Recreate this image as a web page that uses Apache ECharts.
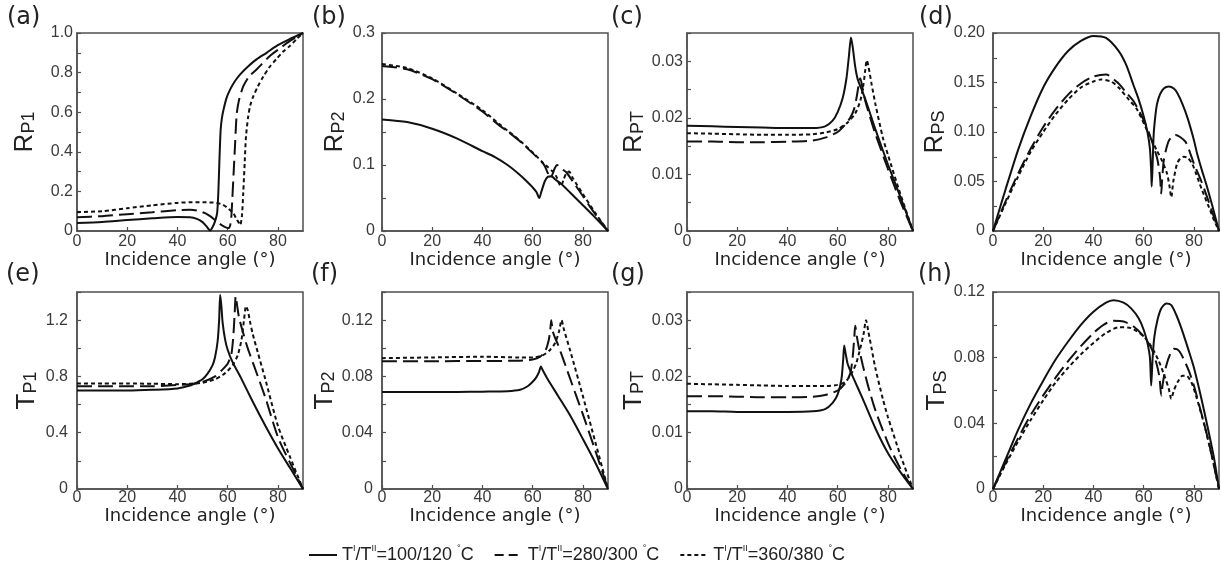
<!DOCTYPE html>
<html><head><meta charset="utf-8">
<script src="https://cdn.jsdelivr.net/npm/echarts@6/dist/echarts.min.js"></script>
<style>html,body{margin:0;padding:0;background:#fff}#c{width:1221px;height:571px}</style>
</head><body><div id="c"></div>
<script>
// ---------- data (angle in degrees, value) ----------
const tempPairs = ['100/120', '280/300', '360/380'];
const panelLetters = ['(a)', '(b)', '(c)', '(d)', '(e)', '(f)', '(g)', '(h)'];
const yMain = ['R', 'R', 'R', 'R', 'T', 'T', 'T', 'T'];
const ySub = ['P1', 'P2', 'PT', 'PS', 'P1', 'P2', 'PT', 'PS'];
const xTitle = 'Incidence angle (°)';
const xStep = 20;
const yMax = [1.0, 0.3, 0.035, 0.2, 1.4, 0.14, 0.035, 0.12];
const yStep = [0.2, 0.1, 0.01, 0.05, 0.4, 0.04, 0.01, 0.04];
const yDecimals = [1, 1, 2, 2, 1, 2, 2, 2];

const RP1_100 = [[0,0.04],[10,0.045],[20,0.055],[30,0.064],[40,0.071],[45,0.07],[48,0.06],[50,0.045],[51.5,0.025],[53,0.003],[54,0.02],[55,0.05],[55.8,0.09],[56.3,0.2],[56.7,0.35],[57.2,0.51],[57.7,0.57],[58.3,0.61],[59.5,0.67],[61,0.715],[62.8,0.755],[64.9,0.79],[68,0.83],[71.6,0.868],[75.5,0.9],[79.5,0.935],[84.5,0.968],[90,1.0]];
const RP1_280 = [[0,0.07],[10,0.075],[20,0.085],[30,0.095],[40,0.105],[45,0.107],[48,0.103],[51,0.09],[53,0.075],[55,0.055],[57,0.035],[59,0.02],[60.5,0.015],[61.3,0.05],[61.8,0.15],[62.4,0.3],[63,0.45],[63.6,0.59],[64.5,0.66],[66.2,0.73],[68.5,0.78],[71.6,0.817],[76.9,0.885],[80,0.915],[84.8,0.96],[90,1.0]];
const RP1_360 = [[0,0.095],[10,0.1],[20,0.115],[30,0.13],[40,0.142],[45,0.145],[50,0.145],[55.6,0.142],[58,0.133],[59.6,0.12],[61,0.105],[62.3,0.09],[63.5,0.06],[64.3,0.045],[65,0.03],[65.7,0.08],[66.2,0.19],[66.8,0.35],[67.3,0.478],[68.2,0.58],[69,0.635],[70.2,0.68],[72,0.73],[74.2,0.78],[76.5,0.825],[79.5,0.87],[82,0.905],[84.8,0.935],[87.5,0.97],[90,1.0]];

const RP2_100 = [[0,0.169],[10,0.165],[20,0.155],[30,0.14],[40,0.121],[45,0.112],[50,0.1],[54.6,0.086],[58,0.074],[60,0.066],[61.5,0.059],[62.6,0.05],[63.5,0.06],[64.8,0.075],[66,0.082],[67.5,0.083],[69,0.078],[71.2,0.072],[75,0.058],[80,0.039],[85,0.02],[90,0]];
const RP2_280 = [[0,0.25],[10,0.245],[20,0.23],[30,0.207],[40,0.181],[46.7,0.16],[50,0.151],[54.6,0.137],[60,0.118],[64,0.103],[65,0.097],[66,0.088],[67,0.08],[67.8,0.085],[68.8,0.095],[69.7,0.1],[70.5,0.098],[72,0.093],[73.4,0.089],[76,0.075],[80,0.053],[82.6,0.038],[86,0.02],[90,0]];
const RP2_360 = [[0,0.253],[10,0.247],[20,0.231],[30,0.208],[40,0.183],[46.7,0.162],[50,0.152],[54.6,0.138],[60,0.119],[64,0.104],[66,0.097],[68,0.09],[69.5,0.082],[70.5,0.072],[71.3,0.068],[72.3,0.078],[73.5,0.088],[74.5,0.09],[76,0.08],[80,0.056],[85,0.027],[90,0]];

const RPT_100 = [[0,0.0186],[10,0.0185],[20,0.0184],[30,0.0183],[40,0.0182],[50,0.0182],[55,0.0185],[58,0.0195],[60,0.021],[62,0.0235],[63.5,0.027],[64.5,0.031],[65.3,0.0342],[66,0.0325],[67,0.029],[68,0.0268],[70,0.0245],[72,0.022],[75,0.018],[80,0.0118],[85,0.006],[90,0]];
const RPT_280 = [[0,0.0158],[10,0.0158],[20,0.0157],[30,0.0157],[40,0.0158],[50,0.016],[55,0.0165],[60,0.0175],[63,0.0188],[65,0.02],[66.5,0.0215],[67.5,0.0235],[68.5,0.0262],[69,0.027],[69.8,0.0255],[71,0.023],[73,0.02],[75,0.0172],[80,0.011],[85,0.0052],[90,0]];
const RPT_360 = [[0,0.0173],[10,0.0172],[20,0.0171],[30,0.017],[40,0.017],[50,0.0171],[55,0.0174],[60,0.018],[64,0.0192],[67,0.0208],[69,0.023],[70.3,0.026],[71,0.0285],[71.6,0.0302],[72.3,0.029],[73.5,0.026],[75,0.0225],[78,0.0165],[80,0.0135],[85,0.0065],[90,0]];

const RPS_100 = [[0,0],[2,0.017],[5,0.042],[10,0.082],[15,0.116],[20,0.145],[25,0.166],[30,0.182],[35,0.192],[40,0.197],[45,0.195],[50,0.182],[53,0.168],[56,0.147],[58,0.133],[60,0.116],[61.5,0.1],[62.5,0.083],[63,0.06],[63.2,0.045],[63.6,0.07],[64,0.098],[64.6,0.115],[65.3,0.128],[66.5,0.138],[68,0.144],[70,0.146],[72,0.144],[73.5,0.139],[75.5,0.128],[77.5,0.114],[80,0.092],[81.3,0.078],[83,0.063],[85.3,0.044],[87.5,0.024],[90,0]];
const RPS_280 = [[0,0],[5,0.03],[10,0.058],[15,0.083],[20,0.105],[25,0.123],[30,0.138],[35,0.149],[40,0.156],[45,0.158],[50,0.149],[53,0.14],[56,0.131],[60,0.112],[62,0.1],[64,0.085],[65.5,0.072],[66.5,0.055],[67,0.038],[67.3,0.05],[68,0.071],[69,0.083],[70,0.091],[71.5,0.096],[72.7,0.097],[74.5,0.095],[76.7,0.09],[78.5,0.079],[80,0.068],[83,0.05],[85.3,0.034],[88,0.014],[90,0]];
const RPS_360 = [[0,0],[5,0.028],[10,0.055],[15,0.08],[20,0.1],[25,0.118],[30,0.133],[35,0.145],[40,0.151],[43,0.153],[47,0.151],[50,0.145],[54,0.133],[57.3,0.123],[61.3,0.102],[65.3,0.081],[67.5,0.07],[69.3,0.058],[70.3,0.045],[71,0.034],[71.8,0.05],[73.3,0.068],[74.5,0.073],[76,0.075],[77.5,0.074],[79.3,0.068],[81,0.057],[83.3,0.041],[86,0.024],[88,0.011],[90,0]];

const TP1_100 = [[0,0.7],[10,0.7],[20,0.7],[30,0.705],[40,0.715],[45,0.735],[48,0.76],[50,0.78],[52,0.82],[54,0.88],[55,0.94],[56,1.05],[56.6,1.2],[57,1.38],[57.5,1.3],[58,1.18],[59,1.06],[60,0.99],[62,0.9],[65,0.8],[70,0.62],[75,0.45],[80,0.29],[85,0.145],[90,0]];
const TP1_280 = [[0,0.73],[10,0.73],[20,0.73],[30,0.73],[40,0.74],[45,0.745],[50,0.76],[55,0.8],[58,0.85],[60,0.89],[61.5,0.96],[62.3,1.1],[62.8,1.25],[63.2,1.37],[63.8,1.3],[64.5,1.22],[66,1.12],[68,1.0],[70,0.9],[75,0.65],[80,0.37],[85,0.18],[90,0]];
const TP1_360 = [[0,0.75],[10,0.75],[20,0.75],[30,0.748],[40,0.745],[45,0.748],[50,0.755],[55,0.78],[58,0.81],[60,0.84],[62,0.88],[64,0.95],[65.5,1.06],[66.5,1.2],[67.3,1.3],[68,1.27],[69,1.18],[70,1.1],[72,0.97],[75,0.78],[80,0.45],[85,0.22],[90,0]];

const TP2_100 = [[0,0.069],[10,0.069],[20,0.069],[30,0.069],[40,0.0692],[50,0.0695],[55,0.0705],[58,0.073],[60,0.0762],[61.5,0.0795],[62.5,0.083],[63.3,0.087],[64,0.0845],[66,0.078],[70,0.0665],[75,0.052],[80,0.0355],[85,0.0185],[90,0]];
const TP2_280 = [[0,0.0908],[20,0.0908],[40,0.091],[55,0.0912],[60,0.092],[63,0.094],[65,0.098],[66.3,0.105],[67,0.113],[67.4,0.12],[68,0.112],[69,0.107],[70,0.103],[75,0.078],[80,0.053],[85,0.027],[90,0]];
const TP2_360 = [[0,0.093],[20,0.0935],[40,0.094],[55,0.0935],[60,0.0935],[64,0.095],[67,0.099],[69,0.104],[70.5,0.112],[71.5,0.12],[72.5,0.113],[75,0.098],[80,0.066],[85,0.033],[90,0]];

const TPT_100 = [[0,0.0138],[10,0.0138],[20,0.0137],[30,0.0137],[40,0.0137],[50,0.0138],[55,0.0142],[58,0.0153],[60,0.0168],[61.5,0.0195],[62.2,0.023],[62.6,0.0255],[63.2,0.024],[64,0.0222],[65.5,0.0205],[67,0.019],[70,0.016],[75,0.0108],[80,0.0064],[85,0.003],[90,0]];
const TPT_280 = [[0,0.0165],[10,0.0165],[20,0.0164],[30,0.0163],[40,0.0163],[50,0.0164],[55,0.0167],[60,0.0175],[63,0.0188],[65,0.0205],[66,0.0235],[66.7,0.0275],[67,0.029],[67.6,0.0272],[68.5,0.025],[70,0.022],[72,0.0185],[75,0.014],[80,0.0082],[85,0.0036],[90,0]];
const TPT_360 = [[0,0.0187],[10,0.0186],[20,0.0185],[30,0.0184],[40,0.0183],[50,0.0183],[55,0.0183],[60,0.0185],[63,0.019],[65.5,0.0205],[67.5,0.0225],[69,0.025],[70.3,0.0275],[71.3,0.03],[72.2,0.028],[73.5,0.025],[75,0.0215],[78,0.016],[80,0.0128],[85,0.006],[90,0]];

const TPS_100 = [[0,0],[5,0.018],[10,0.036],[15,0.052],[20,0.066],[25,0.079],[30,0.09],[35,0.1],[40,0.108],[45,0.1135],[48,0.115],[52,0.1135],[55,0.11],[58,0.104],[60,0.097],[61.5,0.089],[62.5,0.08],[63,0.063],[63.5,0.078],[64.2,0.092],[65.5,0.103],[67,0.11],[69,0.113],[71,0.112],[73,0.106],[75,0.098],[78,0.084],[80,0.074],[83,0.055],[86,0.034],[88,0.019],[90,0]];
const TPS_280 = [[0,0],[5,0.016],[10,0.031],[15,0.045],[20,0.057],[25,0.068],[30,0.078],[35,0.087],[40,0.095],[44,0.1],[48,0.1025],[52,0.102],[56,0.099],[60,0.093],[63,0.086],[65,0.077],[66.3,0.068],[67,0.057],[67.6,0.064],[68.5,0.072],[70,0.08],[72,0.0855],[73.5,0.085],[75,0.082],[78,0.072],[80,0.063],[83,0.046],[86,0.028],[90,0]];
const TPS_360 = [[0,0],[5,0.015],[10,0.029],[15,0.042],[20,0.054],[25,0.065],[30,0.074],[35,0.082],[40,0.089],[45,0.095],[50,0.0985],[55,0.098],[60,0.093],[63,0.087],[66,0.078],[68.5,0.068],[70,0.061],[71,0.055],[72,0.06],[73.5,0.065],[75.5,0.069],[77,0.069],[79,0.065],[81,0.056],[84,0.04],[87,0.021],[90,0]];

const panelSeries = [
  [RP1_100, RP1_280, RP1_360], [RP2_100, RP2_280, RP2_360],
  [RPT_100, RPT_280, RPT_360], [RPS_100, RPS_280, RPS_360],
  [TP1_100, TP1_280, TP1_360], [TP2_100, TP2_280, TP2_360],
  [TPT_100, TPT_280, TPT_360], [TPS_100, TPS_280, TPS_360]
];

// ---------- layout / style ----------
const gridLeft = [77, 382, 687, 993, 77, 382, 687, 993];
const gridTop = [33, 33, 33, 33, 292, 292, 292, 292];
const gridH = [198, 198, 198, 198, 197, 197, 197, 197];
const gridW = 226;
const yNameGap = [39, 34, 40, 45, 37, 40, 40, 43];
const yLabelMargin = [4, 7, 4, 8, 9, 9, 4, 8];
const letterPos = [[7, 6], [312, 6], [611, 6], [919, 6], [6, 263], [311, 263], [611, 263], [918, 263]];
const lineTypes = ['solid', [15, 6], [4, 3]];
const legendTypes = ['solid', [9, 5], [4, 3]];
const SANS = "'Liberation Sans', Arial, sans-serif";
const WIDE = "'DejaVu Sans', 'Liberation Sans', sans-serif";
const FRAME = '#505050';

const grids = [], xAxes = [], yAxes = [], titles = [], series = [];
for (let i = 0; i < 8; i++) {
  const row = i < 4 ? 0 : 1;
  grids.push({ left: gridLeft[i], top: gridTop[i], width: gridW, height: gridH[i],
    show: true, borderColor: FRAME, borderWidth: 1.5, backgroundColor: 'transparent' });
  xAxes.push({
    type: 'value', gridIndex: i, min: 0, max: 90, interval: xStep,
    name: xTitle, nameLocation: 'middle', nameGap: row === 0 ? 19 : 12,
    nameTextStyle: { fontSize: 18, fontFamily: WIDE, color: '#222' },
    axisLine: { show: true, onZero: false, lineStyle: { color: FRAME, width: 1.5 } },
    axisTick: { show: true, inside: true, length: 4, lineStyle: { color: FRAME, width: 1.2 } },
    axisLabel: { fontSize: 16, fontFamily: SANS, color: '#3a3a3a', margin: row === 0 ? 3 : 1,
      showMaxLabel: false },
    splitLine: { show: false }
  });
  const isMult = Math.abs(yMax[i] / yStep[i] - Math.round(yMax[i] / yStep[i])) < 1e-6;
  const dec = yDecimals[i];
  yAxes.push({
    type: 'value', gridIndex: i, min: 0, max: yMax[i], interval: yStep[i],
    name: '{m|' + yMain[i] + '}{s|' + ySub[i] + '}', nameLocation: 'middle', nameRotate: 90,
    nameGap: yNameGap[i],
    nameTextStyle: { color: '#222', rich: {
      m: { fontSize: 26, fontFamily: SANS, lineHeight: 30, verticalAlign: 'bottom', color: '#222' },
      s: { fontSize: 18, fontFamily: SANS, lineHeight: 24, verticalAlign: 'bottom', color: '#222' } } },
    axisLine: { show: true, onZero: false, lineStyle: { color: FRAME, width: 1.5 } },
    axisTick: { show: true, inside: true, length: 4, lineStyle: { color: FRAME, width: 1.2 } },
    minorTick: { show: true, splitNumber: 2, length: 4, lineStyle: { color: FRAME, width: 1.2 } },
    axisLabel: { fontSize: 16, fontFamily: SANS, color: '#3a3a3a', margin: yLabelMargin[i],
      showMaxLabel: isMult,
      formatter: v => (Math.abs(v) < 1e-12 ? '0' : v.toFixed(dec)) },
    splitLine: { show: false }, minorSplitLine: { show: false }
  });
  titles.push({ text: panelLetters[i], left: letterPos[i][0], top: letterPos[i][1], padding: 0,
    textStyle: { fontSize: 24, fontWeight: 'normal', fontFamily: WIDE, color: '#222' } });
  for (let j = 0; j < 3; j++) {
    series.push({
      type: 'line', name: tempPairs[j], xAxisIndex: i, yAxisIndex: i,
      data: panelSeries[i][j], symbol: 'none', showSymbol: false, smooth: 0.25,
      clip: true, animation: false,
      lineStyle: { color: '#111', width: 2, type: lineTypes[j] },
      itemStyle: { color: '#111' }
    });
  }
}

const chart = echarts.init(document.getElementById('c'), null, { renderer: 'canvas' });
chart.setOption({
  animation: false,
  backgroundColor: '#fff',
  title: titles,
  grid: grids, xAxis: xAxes, yAxis: yAxes, series: series,
  legend: {
    left: 303, top: 539, itemWidth: 28, itemHeight: 14, itemGap: 20,
    itemStyle: { color: 'rgba(0,0,0,0)', borderColor: 'rgba(0,0,0,0)', borderWidth: 0, opacity: 0 },
    data: tempPairs.map((n, j) => ({ name: n,
      itemStyle: { color: 'rgba(0,0,0,0)', borderColor: 'rgba(0,0,0,0)', borderWidth: 0, opacity: 0 },
      lineStyle: { type: legendTypes[j], width: 2, color: '#111', opacity: 1 } })),
    formatter: n => '{t|T}{s|I}{t|/T}{s|II}{t|=' + n + ' }{s|°}{t|C}',
    textStyle: { color: '#222', rich: {
      t: { fontSize: 18, fontFamily: "'Liberation Sans Narrow', 'Liberation Sans', sans-serif", lineHeight: 22, color: '#222' },
      s: { fontSize: 9, fontFamily: SANS, lineHeight: 10, verticalAlign: 'top', color: '#222' } } }
  }
});
</script></body></html>
